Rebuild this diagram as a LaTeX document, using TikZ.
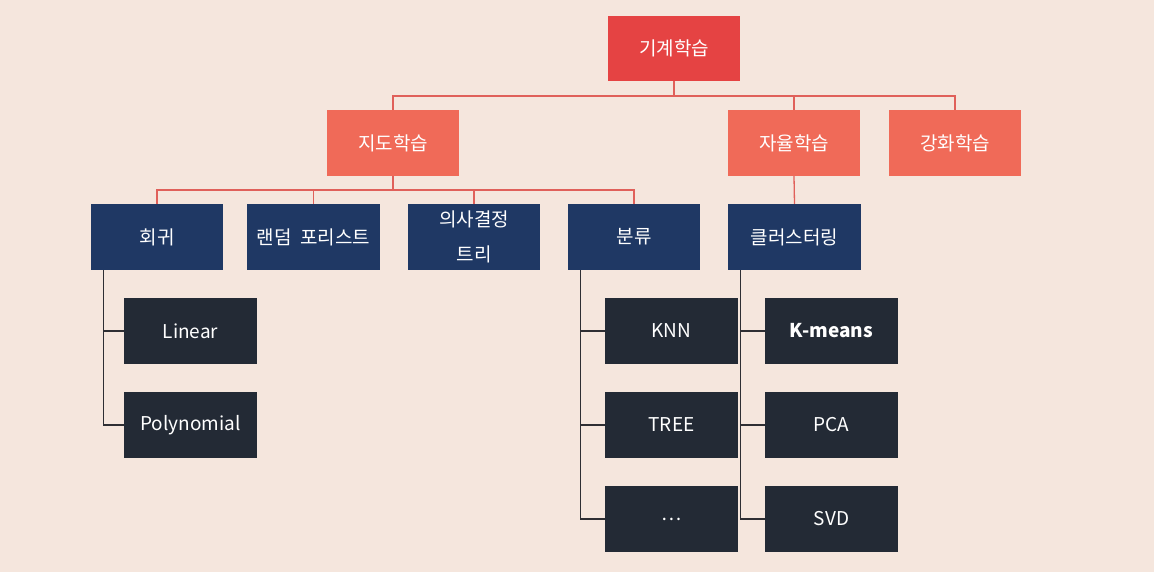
\documentclass[tikz,border=0pt]{standalone}
\usepackage{fontspec}
\setmainfont{Noto Sans CJK KR}
\definecolor{bg}{HTML}{F5E6DD}
\definecolor{topred}{HTML}{E54343}
\definecolor{midred}{HTML}{F06A58}
\definecolor{navy}{HTML}{1F3864}
\definecolor{dark}{HTML}{232A35}
\definecolor{redline}{HTML}{E0605A}
\definecolor{darkline}{HTML}{2E2E33}
\tikzset{
  box/.style={rectangle, inner sep=0pt, text=white, font=\fontsize{19}{35}\selectfont, align=center, minimum height=66pt},
  lvlone/.style={box, fill=topred, minimum width=132pt, minimum height=65pt},
  lvltwo/.style={box, fill=midred, minimum width=132pt},
  lvlthree/.style={box, fill=navy, minimum width=132pt},
  lvlfour/.style={box, fill=dark, minimum width=133pt},
  redconn/.style={draw=redline, line width=1.3pt},
  darkconn/.style={draw=darkline, line width=1.3pt}
}
\begin{document}
\begin{tikzpicture}[x=1pt,y=-1pt]
\fill[bg] (0,0) rectangle (1154,572);
\useasboundingbox (0,0) rectangle (1154,572);
\node[lvlone] (ml) at (674,48.5) {기계학습};
\node[lvltwo] (sup) at (393,143) {지도학습};
\node[lvltwo] (uns) at (794,143) {자율학습};
\node[lvltwo] (rl) at (955,143) {강화학습};
\node[lvlthree] (reg) at (157,237) {회귀};
\node[lvlthree, minimum width=133pt] (rf) at (313.5,237) {랜덤\hspace{0.45em}포리스트};
\node[lvlthree] (dt) at (474,237) {의사결정\\트리};
\node[lvlthree] (cls) at (634,237) {분류};
\node[lvlthree, minimum width=133pt] (clu) at (794.5,237) {클러스터링};
\node[lvlfour] (lin) at (190.5,331) {Linear};
\node[lvlfour] (poly) at (190.5,425) {Polynomial};
\node[lvlfour] (knn) at (671.5,331) {KNN};
\node[lvlfour] (tree) at (671.5,425) {TREE};
\node[lvlfour] (dots) at (671.5,519) {…};
\node[lvlfour] (km) at (831.5,331) {\bfseries K-means};
\node[lvlfour] (pca) at (831.5,425) {PCA};
\node[lvlfour] (svd) at (831.5,519) {SVD};
% red connectors
\coordinate (b1) at (674,96);
\coordinate (b2) at (393,190);
\draw[redconn] (ml.south) -- (b1);
\draw[redconn] (sup.north) -- (sup.north |- b1) -- (rl.north |- b1) -- (rl.north);
\draw[redconn] (uns.north) -- (uns.north |- b1);
\draw[redconn] (sup.south) -- (b2);
\draw[redconn] (reg.north) -- (reg.north |- b2) -- (cls.north |- b2) -- (cls.north);
\draw[redconn] (rf.north) -- (rf.north |- b2);
\draw[redconn] (dt.north) -- (dt.north |- b2);
\draw[redconn] (uns.south) -- (clu.north);
% dark connectors
\coordinate (r1) at ([xshift=13pt]reg.south west);
\coordinate (r2) at ([xshift=13pt]cls.south west);
\coordinate (r3) at ([xshift=13pt]clu.south west);
\draw[darkconn] (r1) |- (poly.west);
\draw[darkconn] (r1 |- lin.west) -- (lin.west);
\draw[darkconn] (r2) |- (dots.west);
\draw[darkconn] (r2 |- knn.west) -- (knn.west);
\draw[darkconn] (r2 |- tree.west) -- (tree.west);
\draw[darkconn] (r3) |- (svd.west);
\draw[darkconn] (r3 |- km.west) -- (km.west);
\draw[darkconn] (r3 |- pca.west) -- (pca.west);
\end{tikzpicture}
\end{document}
